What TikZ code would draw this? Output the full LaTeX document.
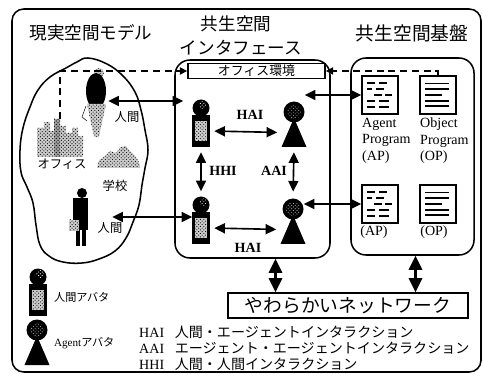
\documentclass[tikz,border=0pt]{standalone}
\usepackage{fontspec}
\setmainfont{Liberation Serif}
\newfontfamily\jp{Noto Sans CJK JP}
\usetikzlibrary{arrows.meta,calc,positioning,patterns}

\tikzset{
  % 網点（地を灰色にして点を重ねる）
  halftone/.style={fill=gray!40,postaction={pattern=crosshatch dots}},
  % 人間アバタ（頭＋胴）
  humanav/.pic={
    \node[inner sep=0pt,minimum width=0.54cm,minimum height=0.96cm] (-b) at (0,0) {};
    \fill (-9,-16) rectangle (9,16);
    \fill[halftone] (-6,-10) rectangle (6,10);
    \node[circle,fill,inner sep=0pt,minimum size=0.51cm] (-h) at (0,-23) {};
    \fill[pattern=crosshatch dots,pattern color=white] (2,-26) circle (4);
  },
  % エージェントアバタ（頭＋三角）
  agentav/.pic={
    \node[inner sep=0pt,minimum width=0.75cm,minimum height=0.87cm] (-b) at (0,0.5) {};
    \fill (0,-14) -- (12.5,15) -- (-12.5,15) -- cycle;
    \node[circle,fill,inner sep=0pt,minimum size=0.63cm] (-h) at (0,-20) {};
    \fill[pattern=crosshatch dots,pattern color=gray!70] (0,-20) circle (7);
  },
  % AP の中身
  aplines/.pic={
    \foreach \y/\a/\b/\c/\d in {8/6/14/18/26,14/6/11/15/23,20/13/21/24/31,26/6/14/18/28,32/6/14/18/28}
      \draw[line width=1.5pt] (\a,\y) -- (\b,\y) (\c,\y) -- (\d,\y);
  },
  % OP の中身
  oplines/.pic={
    \draw[line width=0.6pt] (6,8) -- (30,8);
    \foreach \y/\b in {14/30,20/23,26/30,31/30}
      \draw[line width=1.5pt] (6,\y) -- (\b,\y);
  },
}

\begin{document}
\begin{tikzpicture}[x=0.03cm,y=-0.03cm,>=Latex,
  rframe/.style={draw,line width=1.3pt,rounded corners=0.35cm},
  rbox/.style={draw,line width=1.3pt,rounded corners=0.45cm,inner sep=0pt},
  sqbox/.style={draw,line width=1.5pt,inner sep=0pt},
  doc/.style={draw,line width=1.2pt,inner sep=0pt,minimum width=1.08cm,minimum height=1.14cm},
  hit/.style={inner sep=0pt},
  dbl/.style={<->,line width=1.4pt,>={Triangle[length=0.32cm,width=0.3cm]}},
  bigdbl/.style={<->,line width=1.8pt,>={Triangle[length=0.42cm,width=0.4cm]}},
  dsh/.style={->,line width=1.2pt,dash pattern=on 6pt off 4pt,>={Triangle[length=0.22cm,width=0.22cm]}},
  ttl/.style={font=\jp\fontsize{15}{17}\selectfont},
  jsm/.style={font=\jp\fontsize{10.5}{12}\selectfont},
  lbl/.style={font=\fontsize{12}{14}\selectfont},
  ilbl/.style={font=\bfseries\fontsize{12}{14}\selectfont},
]
\useasboundingbox (0,0) rectangle (483,374);

% 外枠
\draw[rframe] (12,9) rectangle (481,372);

% 見出し
\node[ttl] (tReal) at (91,33) {現実空間モデル};
\node[ttl] (tIf1) at (236,24) {共生空間};
\node[ttl] (tIf2) at (241,48) {インタフェース};
\node[font=\jp\fontsize{16}{18}\selectfont] (tBase) at (412,33) {共生空間基盤};

% 現実空間モデル（雲）
\draw[line width=1.3pt] plot[smooth cycle,tension=0.7] coordinates {
  (88,58) (107,64) (123,76) (135,92) (141,110) (145,130) (148,150) (145,168)
  (142,185) (139,205) (133,222) (126,238) (115,251) (99,259) (82,263) (63,262)
  (49,256) (40,245) (36,225) (33,203) (27,187) (21,172) (20,150) (23,128)
  (30,107) (38,90) (50,77) (66,68) (77,62)};

% オフィスビル
\node[hit,minimum width=1.38cm,minimum height=1.2cm] (off) at (60,139) {};
\fill[halftone] (37,157) -- (37,128) -- (44,128) -- (44,122) -- (50,122)
  -- (50,131) -- (54,131) -- (54,119) -- (60,119) -- (60,126) -- (66,126) -- (66,133)
  -- (72,133) -- (72,128) -- (78,128) -- (78,136) -- (83,136) -- (83,157) -- cycle;
\fill[gray!75,postaction={pattern=crosshatch dots}] (54,119) rectangle (60,157);
% 学校
\fill[halftone] (97,168) -- (99,160) -- (105,156) -- (110,151) -- (116,153)
  -- (121,147) -- (126,146) -- (130,151) -- (135,156) -- (139,162) -- (140,168) -- cycle;

% 人間（上）
\node[hit,minimum width=0.72cm,minimum height=2.1cm] (p1) at (96,101) {};
\fill[halftone] (99,73) circle (5);
\fill (96,91) ellipse [x radius=10,y radius=18];
\fill[halftone] (87,104) -- (106,104) -- (99,137) -- (94,137) -- cycle;
\draw[thin] (86,106) -- (82,117) -- (87,121);
% 人間（下）
\node[hit,minimum width=0.54cm,minimum height=1.74cm] (p2) at (80,217) {};
\fill (82,193) circle (5);
\fill (73,198) rectangle (88,230);
\fill (76,230) rectangle (80,246);
\fill (82,230) rectangle (86,246);
\fill[halftone] (69,220) rectangle (79,231);

\node[jsm] (lP1) at (127,117) {人間};
\node[jsm] (lOff) at (62,164) {オフィス};
\node[jsm] (lSch) at (115,186) {学校};
\node[jsm] (lP2) at (110,228) {人間};

% 共生空間インタフェース
\node[rbox,minimum width=4.65cm,minimum height=5.94cm] (iface) at (252.5,159) {};
\node[sqbox,fill=white,minimum width=4.11cm,minimum height=0.45cm,
  font=\jp\fontsize{11}{12}\selectfont] (office) at (256.5,71) {オフィス環境};

\pic (h1) at (201,131) {humanav};
\pic (a1) at (294,132) {agentav};
\pic (h2) at (201,228) {humanav};
\pic (a2) at (293,229) {agentav};

% 共生空間基盤
\node[rbox,minimum width=3.69cm,minimum height=5.91cm] (base) at (412.5,156.5) {};
\node[doc] (ap1) at (380,95) {};
\node[doc] (op1) at (438,95) {};
\node[doc] (ap2) at (380,204) {};
\node[doc] (op2) at (438,204) {};
\pic at (ap1.north west) {aplines};
\pic at (op1.north west) {oplines};
\pic at (ap2.north west) {aplines};
\pic at (op2.north west) {oplines};
\node[lbl,anchor=north west,align=left,inner sep=0pt] (lAP) at (362,118) {Agent\\Program\\(AP)};
\node[lbl,anchor=north west,align=left,inner sep=0pt] (lOP) at (420,118) {Object\\Program\\(OP)};
\node[lbl] (lAP2) at (374,232) {(AP)};
\node[lbl] (lOP2) at (434,232) {(OP)};

% やわらかいネットワーク
\node[sqbox,minimum width=7.2cm,minimum height=0.75cm,
  font=\jp\fontsize{16}{18}\selectfont] (net) at (348,305.5) {やわらかいネットワーク};

% 破線：モデル → オフィス環境 ← OP
\draw[dsh] (off.north) |- (office.west);
\draw[dsh] (op1.north) |- (office.east);

% 双方向の矢印
\draw[dbl,shorten >=0.27cm] (p1.east) -- (p1.east -| h1-h.west);
\draw[dbl,shorten <=0.69cm] (p2.east) -- (p2.east -| h2-h.west);
\draw[dbl] (ap1.west -| a1-h.east) -- (ap1.west);
\draw[dbl] (ap2.west -| a2-h.east) -- (ap2.west);
\draw[dbl,shorten <=0.12cm,shorten >=0.12cm] (h1-b.east) -- (a1-b.west);
\draw[dbl,shorten <=0.12cm,shorten >=0.12cm] (h2-b.east) -- (a2-b.west);
\draw[dbl,shorten <=0.15cm,shorten >=0.15cm] (h1-b.south) -- (h2-h.north);
\draw[dbl,shorten <=0.15cm,shorten >=0.2cm] (a1-b.south) -- (a2-h.north);
\draw[bigdbl] ([xshift=0.69cm]iface.south) -- ([xshift=0.69cm]iface.south |- net.north);
\draw[bigdbl] ([xshift=0.09cm]base.south) -- ([xshift=0.09cm]base.south |- net.north);

\node[ilbl] (lHAI1) at (250,115) {HAI};
\node[ilbl] (lHAI2) at (248,248) {HAI};
\node[ilbl] (lHHI) at (223,171) {HHI};
\node[ilbl] (lAAI) at (274,171) {AAI};

% 凡例
\pic (lh) at (38,300) {humanav};
\pic (la) at (37,350) {agentav};
\node[anchor=west,font=\jp\fontsize{9.5}{11}\selectfont] (lHav) at (50,297) {人間アバタ};
\node[anchor=west,font=\fontsize{9.5}{11}\selectfont] (lAav) at (50,343) {Agent{\jp アバタ}};
\node[anchor=north west,inner sep=0pt,font=\fontsize{12}{12.8}\selectfont] (legend) at (139,326) {%
  \begin{tabular}{@{}l@{\hspace{9pt}}l@{}}
  HAI & \jp 人間・エージェントインタラクション\\
  AAI & \jp エージェント・エージェントインタラクション\\
  HHI & \jp 人間・人間インタラクション
  \end{tabular}};
\end{tikzpicture}
\end{document}
